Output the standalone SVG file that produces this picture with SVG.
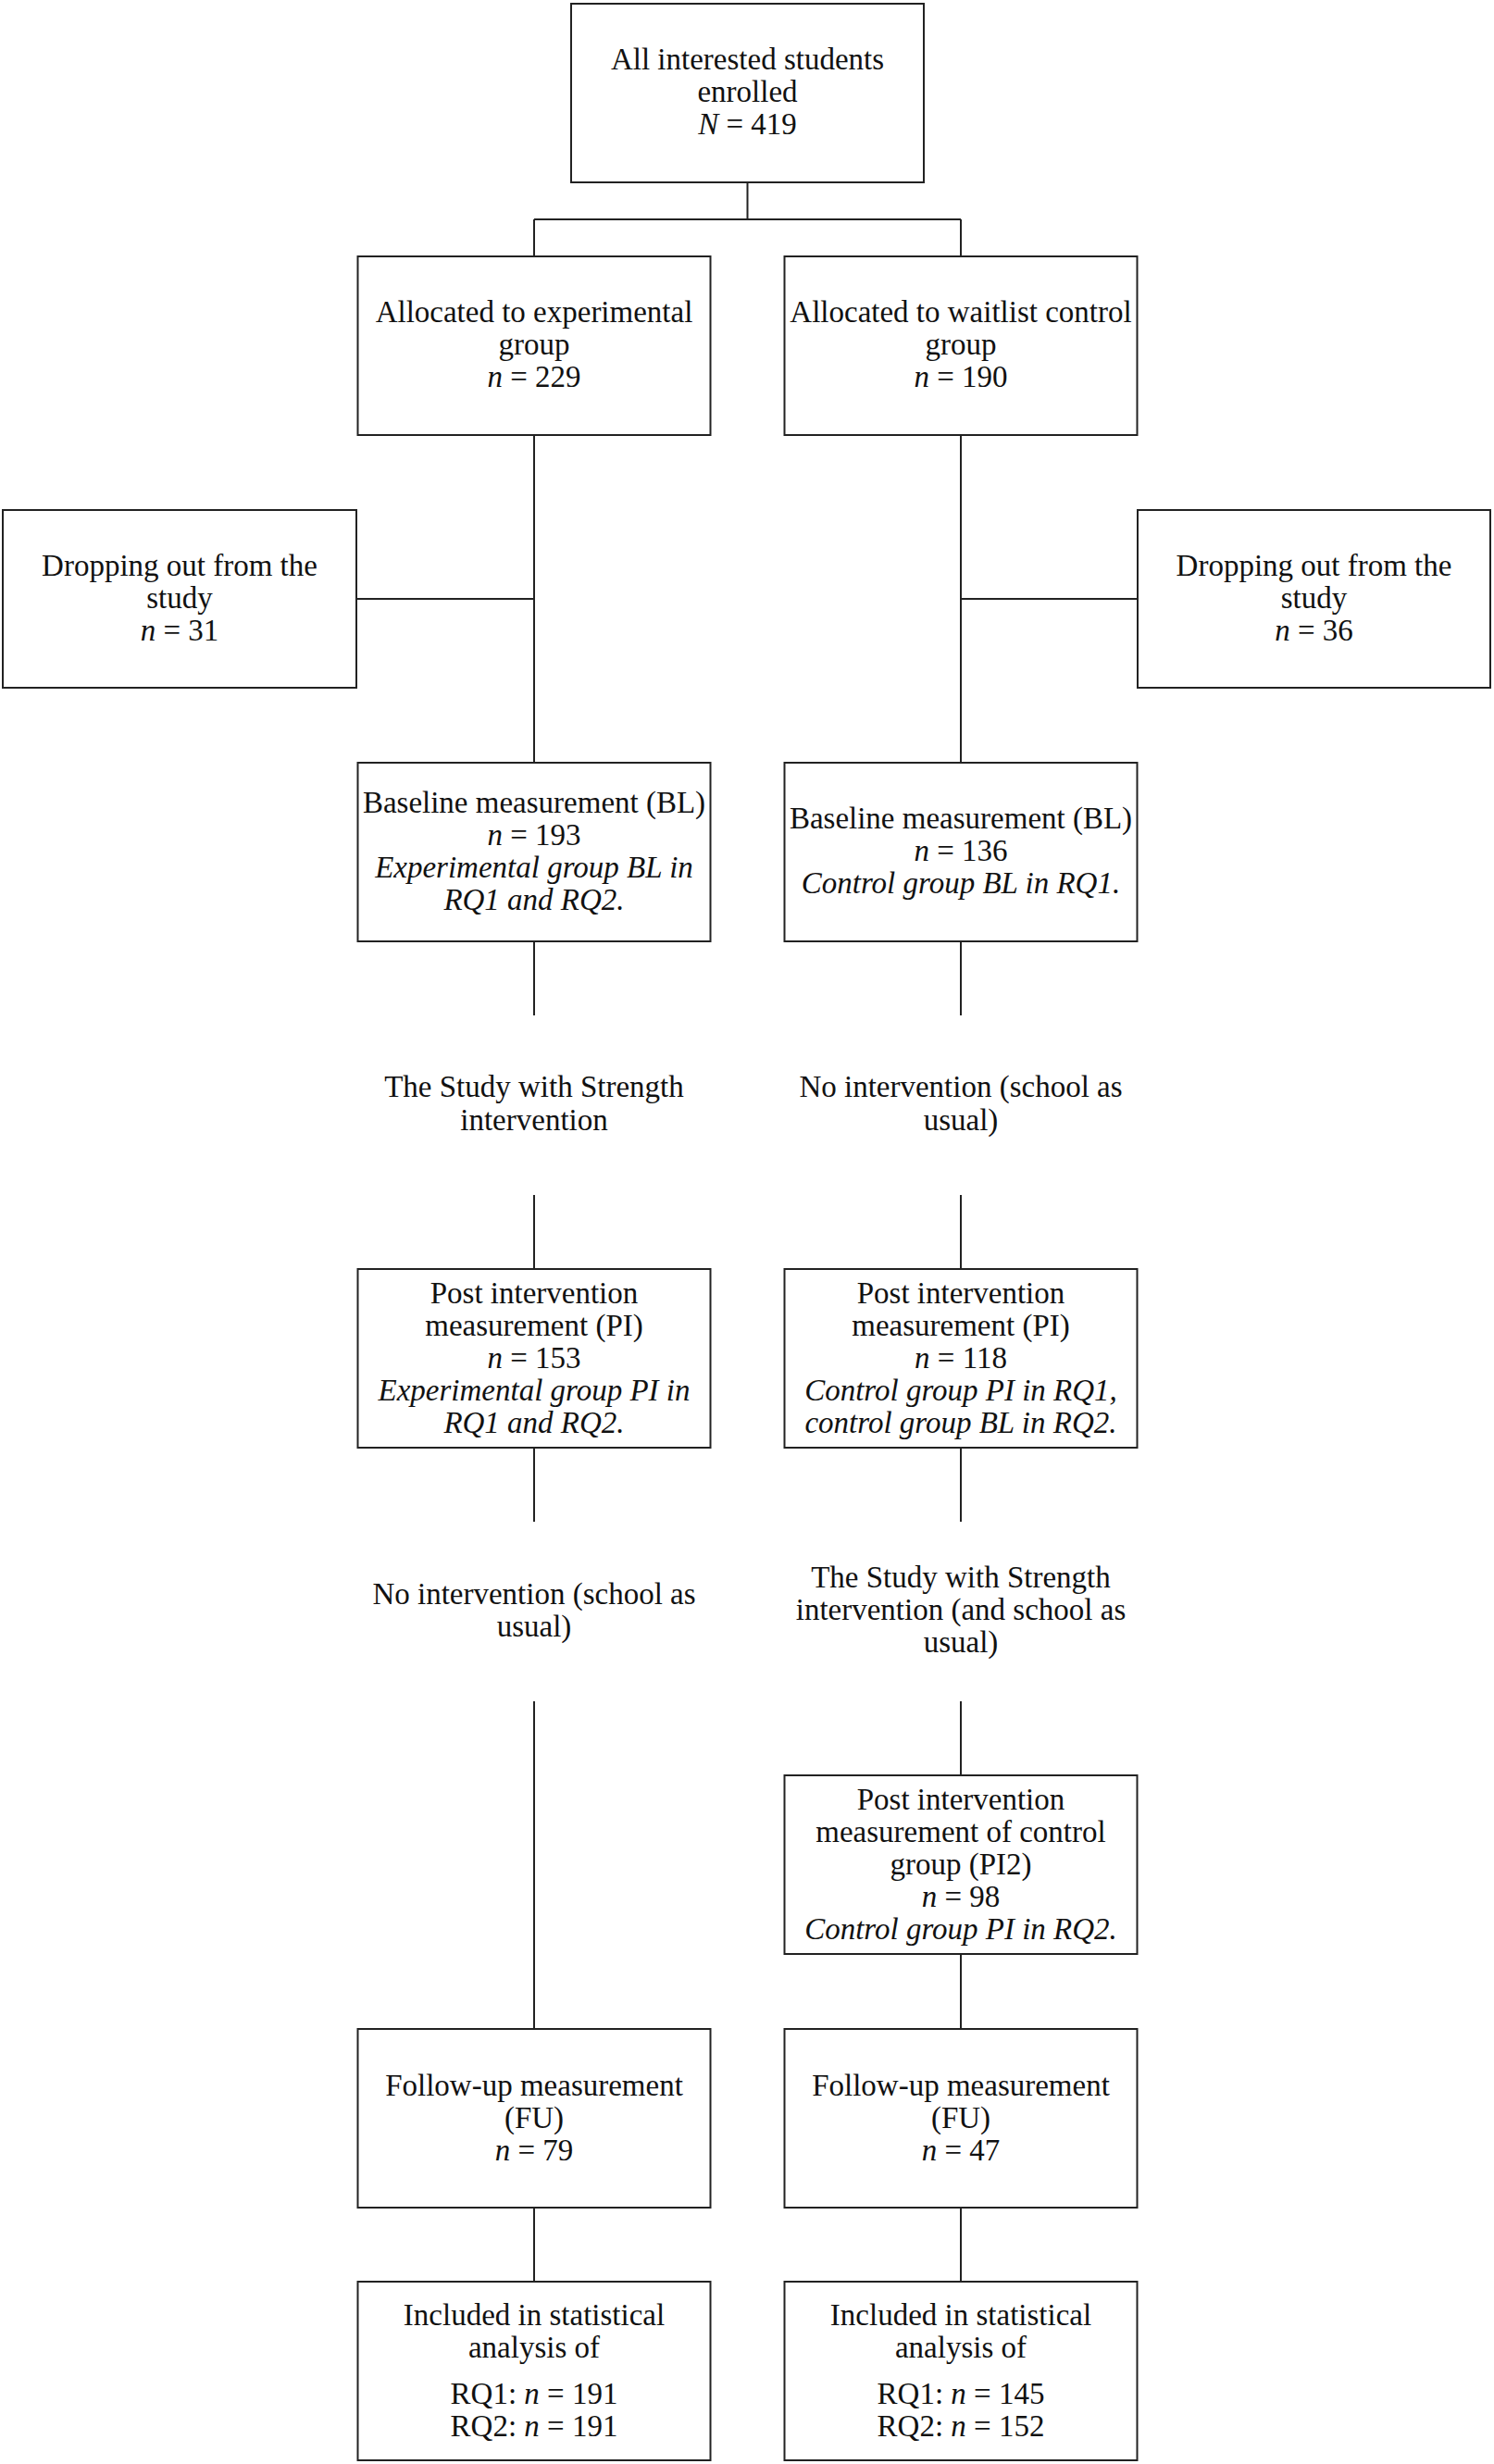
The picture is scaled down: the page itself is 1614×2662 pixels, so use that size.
<svg xmlns="http://www.w3.org/2000/svg" width="1614" height="2662" viewBox="0 0 1614 2662">
<style>
.box{fill:#fff;stroke:#222;stroke-width:2}
.ln{fill:none;stroke:#222;stroke-width:2}
text{font-family:"Liberation Serif","Times New Roman",serif;font-size:33px;fill:#111;text-anchor:middle}
.i{font-style:italic}
</style>
<rect width="1614" height="2662" fill="#fff"/>
<g id="connectors">
<path class="ln" d="M807.5 197V237M577 237H1038M577 237V277M1038 237V277"/>
<path class="ln" d="M577 470V824M385 647H577M1038 470V824M1038 647H1229"/>
<path class="ln" d="M577 1017V1097M1038 1017V1097M577 1291V1371M1038 1291V1371"/>
<path class="ln" d="M577 1564V1644M1038 1564V1644M577 1838V2192M1038 1838V1918"/>
<path class="ln" d="M1038 2111V2192M577 2385V2465M1038 2385V2465"/>
</g>
<g id="enrolled">
<rect class="box" x="617" y="4" width="381" height="193"/>
<text x="807.5" y="75">All interested students</text>
<text x="807.5" y="110">enrolled</text>
<text x="807.5" y="145"><tspan class="i">N</tspan> = 419</text>
</g>
<g id="alloc-exp">
<rect class="box" x="386.5" y="277" width="381" height="193"/>
<text x="577" y="348">Allocated to experimental</text>
<text x="577" y="383">group</text>
<text x="577" y="418"><tspan class="i">n</tspan> = 229</text>
</g>
<g id="alloc-ctrl">
<rect class="box" x="847.5" y="277" width="381" height="193"/>
<text x="1038" y="348">Allocated to waitlist control</text>
<text x="1038" y="383">group</text>
<text x="1038" y="418"><tspan class="i">n</tspan> = 190</text>
</g>
<g id="drop-exp">
<rect class="box" x="3" y="551" width="382" height="192"/>
<text x="194" y="621.5">Dropping out from the</text>
<text x="194" y="656.5">study</text>
<text x="194" y="691.5"><tspan class="i">n</tspan> = 31</text>
</g>
<g id="drop-ctrl">
<rect class="box" x="1229" y="551" width="381" height="192"/>
<text x="1419.5" y="621.5">Dropping out from the</text>
<text x="1419.5" y="656.5">study</text>
<text x="1419.5" y="691.5"><tspan class="i">n</tspan> = 36</text>
</g>
<g id="bl-exp">
<rect class="box" x="386.5" y="824" width="381" height="193"/>
<text x="577" y="877.5">Baseline measurement (BL)</text>
<text x="577" y="912.5"><tspan class="i">n</tspan> = 193</text>
<text x="577" y="947.5" class="i">Experimental group BL in</text>
<text x="577" y="982.5" class="i">RQ1 and RQ2.</text>
</g>
<g id="bl-ctrl">
<rect class="box" x="847.5" y="824" width="381" height="193"/>
<text x="1038" y="895">Baseline measurement (BL)</text>
<text x="1038" y="930"><tspan class="i">n</tspan> = 136</text>
<text x="1038" y="965" class="i">Control group BL in RQ1.</text>
</g>
<g id="int1-exp">
<text x="577" y="1185">The Study with Strength</text>
<text x="577" y="1221">intervention</text>
</g>
<g id="int1-ctrl">
<text x="1038" y="1185">No intervention (school as</text>
<text x="1038" y="1221">usual)</text>
</g>
<g id="pi-exp">
<rect class="box" x="386.5" y="1371" width="381" height="193"/>
<text x="577" y="1407.5">Post intervention</text>
<text x="577" y="1442.5">measurement (PI)</text>
<text x="577" y="1477.5"><tspan class="i">n</tspan> = 153</text>
<text x="577" y="1512.5" class="i">Experimental group PI in</text>
<text x="577" y="1547.5" class="i">RQ1 and RQ2.</text>
</g>
<g id="pi-ctrl">
<rect class="box" x="847.5" y="1371" width="381" height="193"/>
<text x="1038" y="1407.5">Post intervention</text>
<text x="1038" y="1442.5">measurement (PI)</text>
<text x="1038" y="1477.5"><tspan class="i">n</tspan> = 118</text>
<text x="1038" y="1512.5" class="i">Control group PI in RQ1,</text>
<text x="1038" y="1547.5" class="i">control group BL in RQ2.</text>
</g>
<g id="int2-exp">
<text x="577" y="1733">No intervention (school as</text>
<text x="577" y="1768">usual)</text>
</g>
<g id="int2-ctrl">
<text x="1038" y="1715">The Study with Strength</text>
<text x="1038" y="1750">intervention (and school as</text>
<text x="1038" y="1785">usual)</text>
</g>
<g id="pi2-ctrl">
<rect class="box" x="847.5" y="1918" width="381" height="193"/>
<text x="1038" y="1954.5">Post intervention</text>
<text x="1038" y="1989.5">measurement of control</text>
<text x="1038" y="2024.5">group (PI2)</text>
<text x="1038" y="2059.5"><tspan class="i">n</tspan> = 98</text>
<text x="1038" y="2094.5" class="i">Control group PI in RQ2.</text>
</g>
<g id="fu-exp">
<rect class="box" x="386.5" y="2192" width="381" height="193"/>
<text x="577" y="2263.5">Follow-up measurement</text>
<text x="577" y="2298.5">(FU)</text>
<text x="577" y="2333.5"><tspan class="i">n</tspan> = 79</text>
</g>
<g id="fu-ctrl">
<rect class="box" x="847.5" y="2192" width="381" height="193"/>
<text x="1038" y="2263.5">Follow-up measurement</text>
<text x="1038" y="2298.5">(FU)</text>
<text x="1038" y="2333.5"><tspan class="i">n</tspan> = 47</text>
</g>
<g id="incl-exp">
<rect class="box" x="386.5" y="2465" width="381" height="193"/>
<text x="577" y="2512">Included in statistical</text>
<text x="577" y="2547">analysis of</text>
<text x="577" y="2597">RQ1: <tspan class="i">n</tspan> = 191</text>
<text x="577" y="2632">RQ2: <tspan class="i">n</tspan> = 191</text>
</g>
<g id="incl-ctrl">
<rect class="box" x="847.5" y="2465" width="381" height="193"/>
<text x="1038" y="2512">Included in statistical</text>
<text x="1038" y="2547">analysis of</text>
<text x="1038" y="2597">RQ1: <tspan class="i">n</tspan> = 145</text>
<text x="1038" y="2632">RQ2: <tspan class="i">n</tspan> = 152</text>
</g>
</svg>
